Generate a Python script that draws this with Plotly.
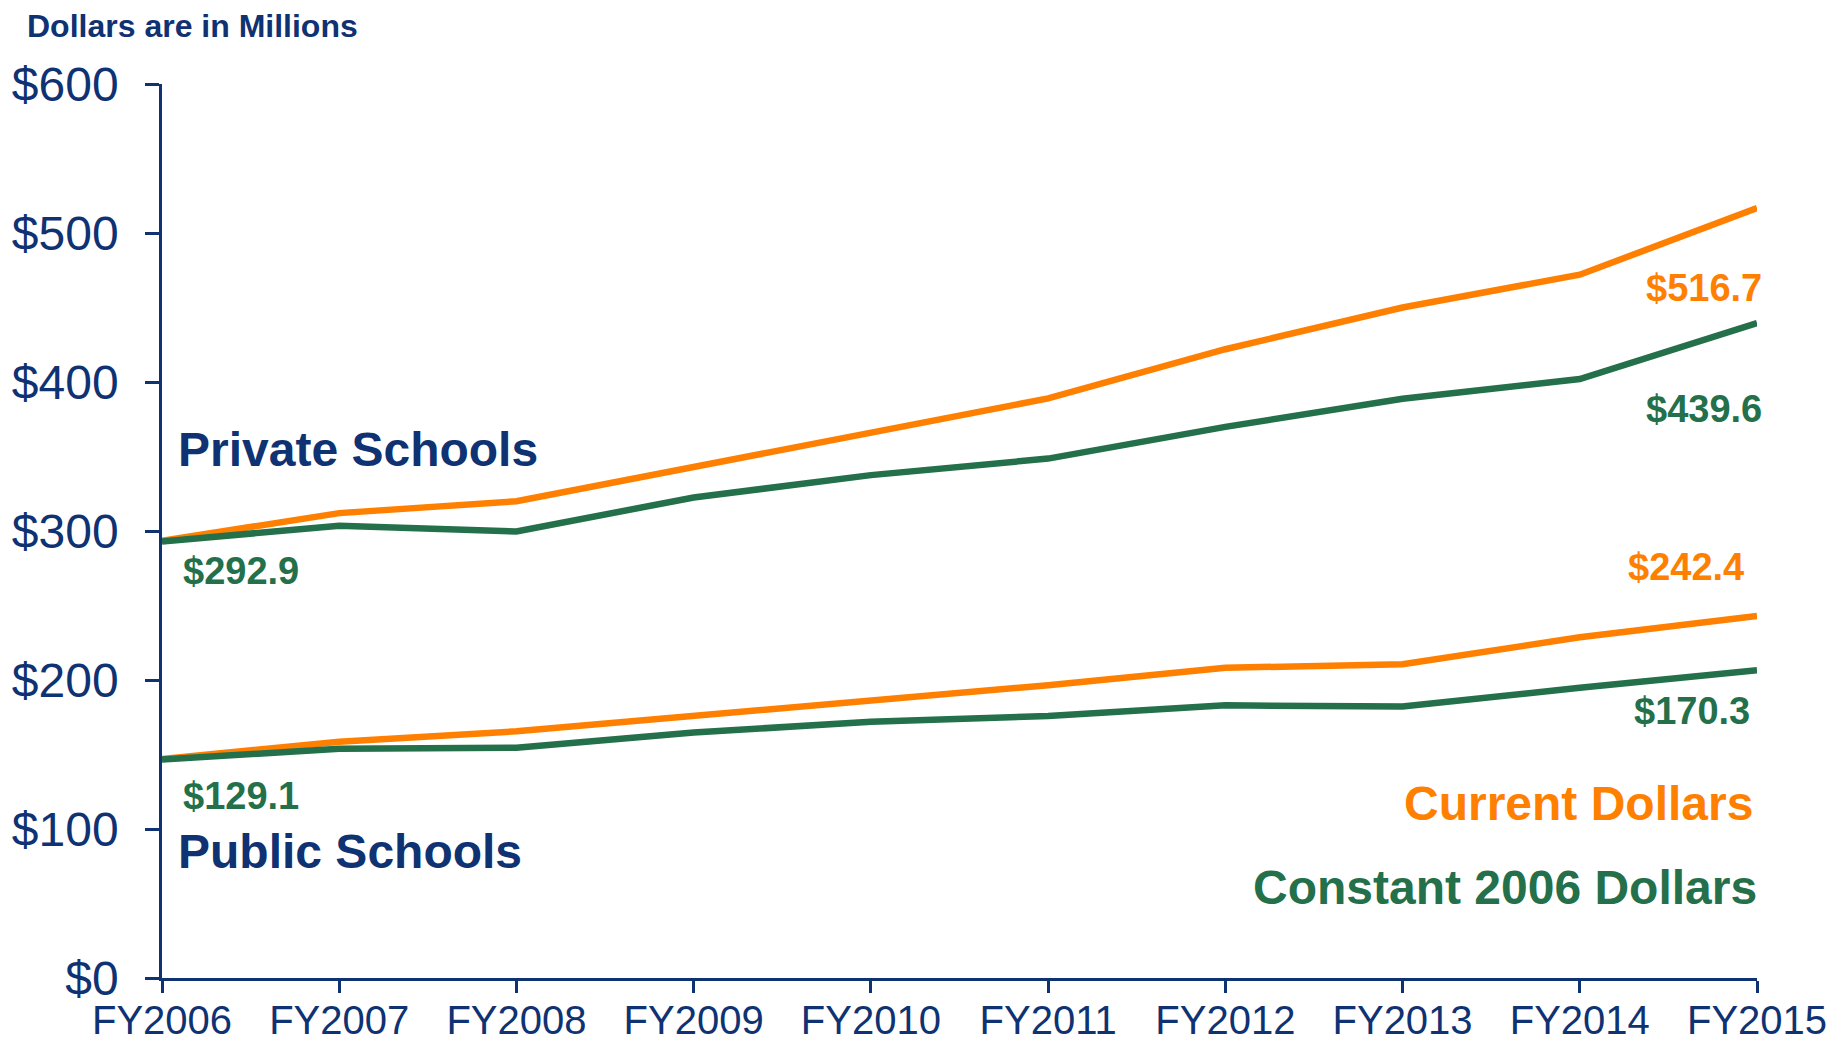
import plotly.graph_objects as go

years = ["FY2006", "FY2007", "FY2008", "FY2009", "FY2010", "FY2011", "FY2012", "FY2013", "FY2014", "FY2015"]
private_current = [293.4, 312.0, 320.0, 343.0, 365.0, 389.0, 422.0, 450.0, 472.0, 516.7]
private_constant = [292.9, 303.6, 299.7, 322.5, 337.5, 348.6, 369.9, 388.8, 402.0, 439.6]
public_current = [147.0, 158.5, 165.6, 175.9, 186.1, 196.5, 208.2, 210.6, 228.7, 242.9]
public_constant = [146.7, 153.8, 154.6, 164.8, 171.9, 175.9, 183.0, 182.2, 194.8, 206.6]
y_ticks = [0, 100, 200, 300, 400, 500, 600]
y_tick_labels = ["$0", "$100", "$200", "$300", "$400", "$500", "$600"]

NAVY = "#0F3273"
ORANGE = "#FF8000"
GREEN = "#23704A"
FONT = "Liberation Sans, Arial, sans-serif"

# page body has an 8px default margin; the figure starts at (8, 8) in the window
W, H = 1825, 1036
ML, MR, MT, MB = 154, 76, 76, 66

fig = go.Figure()
xs = list(range(len(years)))
for ys, col in [(private_current, ORANGE), (private_constant, GREEN),
                (public_current, ORANGE), (public_constant, GREEN)]:
    fig.add_trace(go.Scatter(x=xs, y=ys, mode="lines",
                             line=dict(color=col, width=6.5),
                             showlegend=False, hoverinfo="skip"))

def ann(text, x, y, color, size, xanchor, xshift=0):
    fig.add_annotation(text=f"<b>{text}</b>", x=x, y=y, xref="x", yref="y",
                       showarrow=False, xanchor=xanchor, yanchor="middle", xshift=xshift,
                       font=dict(family=FONT, size=size, color=color))

ann("Private Schools", 0.08, 354.6, NAVY, 48, "left")
ann("Public Schools", 0.08, 85.1, NAVY, 48, "left")
ann("$292.9", 0.11, 273.4, GREEN, 38, "left")
ann("$129.1", 0.11, 122.1, GREEN, 38, "left")
ann("$516.7", 9, 463.4, ORANGE, 38, "right", 7)
ann("$439.6", 9, 382.2, GREEN, 38, "right", 7)
ann("$242.4", 8.94, 275.8, ORANGE, 38, "right")
ann("$170.3", 8.97, 178.9, GREEN, 38, "right")
ann("Current Dollars", 8.99, 117.4, ORANGE, 48, "right")
ann("Constant 2006 Dollars", 9, 60.7, GREEN, 48, "right", 2)

plot_w = W - ML - MR
plot_h = H - MT - MB
fig.add_annotation(text="<b>Dollars are in Millions</b>",
                   x=(17 - ML) / plot_w, y=(H - MB) / plot_h,
                   xref="paper", yref="paper", showarrow=False,
                   xanchor="left", yanchor="top", yshift=2,
                   font=dict(family=FONT, size=32, color=NAVY))

fig.update_layout(
    width=W, height=H,
    margin=dict(l=ML, r=MR, t=MT, b=MB, pad=0, autoexpand=False),
    paper_bgcolor="white", plot_bgcolor="white",
    font=dict(family=FONT, color=NAVY),
    xaxis=dict(range=[0, len(years) - 1], tickmode="array", tickvals=xs, ticktext=years,
               automargin=False,
               showgrid=False, zeroline=False, showline=True, linecolor=NAVY, linewidth=2.5,
               ticks="outside", ticklen=12, tickwidth=2.5, tickcolor=NAVY,
               tickfont=dict(family=FONT, size=40, color=NAVY), ticklabelstandoff=-7),
    yaxis=dict(range=[0, 600], tickmode="array", tickvals=y_ticks, ticktext=y_tick_labels,
               automargin=False,
               showgrid=False, zeroline=False, showline=True, linecolor=NAVY, linewidth=2.5,
               ticks="outside", ticklen=14, tickwidth=2.5, tickcolor=NAVY,
               tickfont=dict(family=FONT, size=48, color=NAVY), ticklabelstandoff=17),
)

fig.write_html("out.html")
